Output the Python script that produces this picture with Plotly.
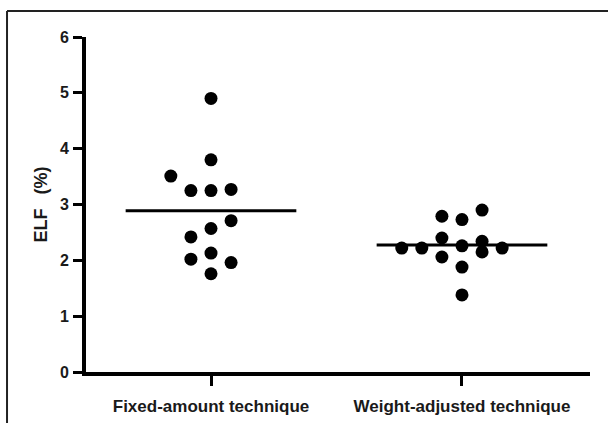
import plotly.graph_objects as go

categories = ["Fixed-amount technique", "Weight-adjusted technique"]

# ELF (%) values
fixed_vals = [4.90, 3.80, 3.51, 3.25, 3.25, 3.27, 2.71, 2.57, 2.42, 2.02, 2.13, 1.96, 1.76]
fixed_cols = [0, 0, -2, -1, 0, 1, 1, 0, -1, -1, 0, 1, 0]

weight_vals = [2.22, 2.22, 2.79, 2.40, 2.06, 2.73, 2.26, 1.88, 1.38, 2.90, 2.34, 2.15, 2.22]
weight_cols = [-3, -2, -1, -1, -1, 0, 0, 0, 0, 1, 1, 1, 2]

y_ticks = [0, 1, 2, 3, 4, 5, 6]

col_step = 0.08
half_line = 0.34

font_family = "Liberation Sans, Arial, sans-serif"

fig = go.Figure()
for i, (vals, cols) in enumerate([(fixed_vals, fixed_cols), (weight_vals, weight_cols)]):
    fig.add_trace(go.Scatter(
        x=[i + c * col_step for c in cols], y=vals, mode="markers",
        marker=dict(size=13, color="black"), showlegend=False, cliponaxis=False))
    m = sum(vals) / len(vals)
    fig.add_trace(go.Scatter(
        x=[i - half_line, i + half_line], y=[m, m], mode="lines",
        line=dict(color="black", width=3), showlegend=False))

fig.update_layout(
    template="none",
    width=608, height=423,
    margin=dict(l=86, r=18, t=37, b=51, autoexpand=False),
    paper_bgcolor="white", plot_bgcolor="white",
    font=dict(family=font_family, color="#1a1a1a", size=16, weight="bold"),
    xaxis=dict(range=[-0.498, 1.51], tickvals=[0, 1], ticktext=categories,
               automargin=False,
               showline=True, linewidth=4, linecolor="black", ticks="outside",
               ticklen=10, tickwidth=3, tickcolor="black", showgrid=False,
               zeroline=False, tickfont=dict(size=17, weight="bold", color="#1a1a1a"),
               ticklabelstandoff=6),
    yaxis=dict(range=[0, 6], tickvals=y_ticks, showline=True, linewidth=4,
               automargin=False,
               linecolor="black", ticks="outside", ticklen=9, tickwidth=3,
               tickcolor="black", showgrid=False, zeroline=False,
               tickfont=dict(size=16, weight="bold", color="#1a1a1a"),
               ticklabelstandoff=1,
               title=dict(text="ELF\u2002\u00a0(%)", font=dict(size=18, weight="bold", color="#1a1a1a"),
                          standoff=9)),
    shapes=[
        dict(type="line", xref="paper", yref="paper", x0=-0.1567, x1=1.2,
             y0=1.0776, y1=1.0776, line=dict(color="#222", width=2)),
        dict(type="line", xref="paper", yref="paper", x0=-0.1567, x1=-0.1567,
             y0=1.0776, y1=-0.3, line=dict(color="#222", width=2)),
    ],
)

fig.write_html("out.html", config={"displayModeBar": False},
               post_script="document.body.style.margin='0';document.body.style.overflow='hidden';")
